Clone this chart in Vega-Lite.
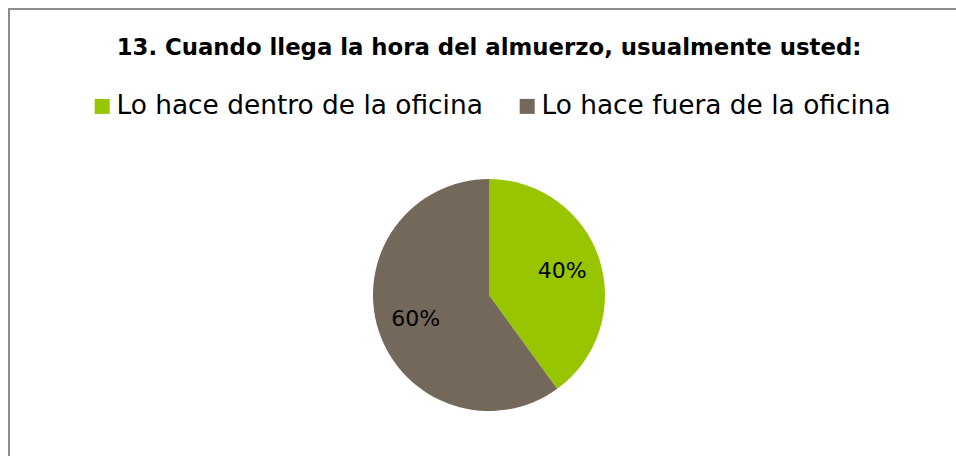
{
  "$schema": "https://vega.github.io/schema/vega-lite/v6.json",
  "autosize": "none",
  "padding": {"left": 9, "top": 9, "right": 0, "bottom": 0},
  "width": 960,
  "height": 572,
  "background": "white",
  "view": {"stroke": "#8C8C8C", "strokeWidth": 2, "fill": "white"},
  "title": {
    "text": "13. Cuando llega la hora del almuerzo, usualmente usted:",
    "anchor": "middle",
    "frame": "group",
    "font": "DejaVu Sans",
    "fontSize": 22.8,
    "fontWeight": "bold",
    "color": "#000000",
    "dy": 55
  },
  "data": {
    "values": [
      {"categoria": "Lo hace dentro de la oficina", "porcentaje": 40, "etiqueta": "40%"},
      {"categoria": "Lo hace fuera de la oficina", "porcentaje": 60, "etiqueta": "60%"}
    ]
  },
  "encoding": {
    "theta": {"field": "porcentaje", "type": "quantitative", "stack": true},
    "color": {
      "field": "categoria",
      "type": "nominal",
      "scale": {
        "domain": ["Lo hace dentro de la oficina", "Lo hace fuera de la oficina"],
        "range": ["#97C500", "#73685A"]
      },
      "legend": {
        "title": null,
        "orient": "none",
        "direction": "horizontal",
        "legendX": 80,
        "legendY": 84,
        "symbolType": "square",
        "symbolSize": 225,
        "symbolStrokeWidth": 0,
        "labelFont": "DejaVu Sans",
        "labelFontSize": 26.4,
        "labelColor": "#000000",
        "labelLimit": 500,
        "labelOffset": 1,
        "columnPadding": 31
      }
    }
  },
  "layer": [
    {"mark": {"type": "arc", "radius": 116, "stroke": null}},
    {
      "mark": {"type": "text", "radius": 77, "font": "DejaVu Sans", "fontSize": 22, "color": "#000000"},
      "encoding": {
        "text": {"field": "etiqueta", "type": "nominal"},
        "color": {"value": "#000000"}
      }
    }
  ]
}
